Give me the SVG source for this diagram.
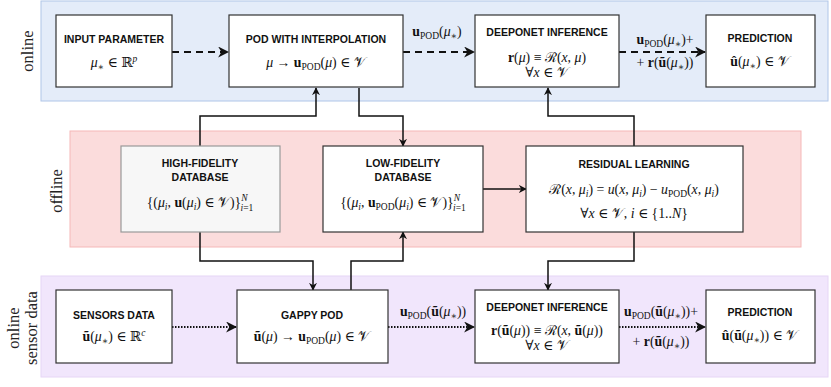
<svg xmlns="http://www.w3.org/2000/svg" width="831" height="387" viewBox="0 0 831 387">
<style>
.box{fill:#fff;stroke:#333;stroke-width:1.2}
.gbox{fill:#f7f7f7;stroke:#999;stroke-width:1.2}
.t{font-family:"Liberation Sans",Arial,sans-serif;font-weight:bold;font-size:10.5px;fill:#111;text-anchor:middle}
.m{font-family:"Liberation Serif","DejaVu Serif",serif;font-size:13.8px;fill:#111;text-anchor:middle}
.lbl{font-family:"Liberation Serif","DejaVu Serif",serif;font-size:16.5px;fill:#222;text-anchor:middle}
.b{font-weight:bold}
.i{font-style:italic}
.s{font-size:9.5px}
.sol{fill:none;stroke:#111;stroke-width:1.5}
.dash{fill:none;stroke:#111;stroke-width:2;stroke-dasharray:7 5}
.dot{fill:none;stroke:#111;stroke-width:2;stroke-dasharray:1.5 1.5}
</style>
<defs>
<marker id="ar" viewBox="0 0 10 10" refX="9" refY="5" markerWidth="8" markerHeight="8" markerUnits="userSpaceOnUse" orient="auto">
<path d="M0,0 L10,5 L0,10 L3,5 z" fill="#111"/>
</marker>
<marker id="arb" viewBox="0 0 10 10" refX="9" refY="5" markerWidth="11" markerHeight="11" markerUnits="userSpaceOnUse" orient="auto">
<path d="M0,0 L10,5 L0,10 L3,5 z" fill="#111"/>
</marker>
</defs>

<g id="bands">
<rect x="41" y="1" width="787" height="100" fill="#e4ecf9" stroke="#b0c6e8" stroke-width="1"/>
<rect x="70" y="131" width="731" height="116" fill="#fbdcdc" stroke="#f5b8b8" stroke-width="1"/>
<rect x="41" y="276" width="787" height="101" fill="#f1e6fc" stroke="#e6d6f6" stroke-width="1"/>
<text class="lbl" transform="translate(33,51) rotate(-90)">online</text>
<text class="lbl" transform="translate(62,191) rotate(-90)">offline</text>
<text class="lbl" transform="translate(19,328) rotate(-90)">online</text>
<text class="lbl" transform="translate(37,328) rotate(-90)">sensor data</text>
</g>

<g id="connectors">
<path class="dash" d="M172,52 H228" marker-end="url(#arb)"/>
<path class="dash" d="M403,52 H474" marker-end="url(#arb)"/>
<path class="dash" d="M619,52 H705" marker-end="url(#arb)"/>
<path class="dot" d="M172,327 H236" marker-end="url(#arb)"/>
<path class="dot" d="M388,327 H474" marker-end="url(#arb)"/>
<path class="dot" d="M619,327 H705" marker-end="url(#arb)"/>
<path class="sol" d="M200,146 V116 H316 V88" marker-end="url(#ar)"/>
<path class="sol" d="M359,88 V116 H403 V146" marker-end="url(#ar)"/>
<path class="sol" d="M200,232 V261 H313 V290" marker-end="url(#ar)"/>
<path class="sol" d="M351,290 V261 H403 V232" marker-end="url(#ar)"/>
<path class="sol" d="M483,189 H526" marker-end="url(#ar)"/>
<path class="sol" d="M634,146 V116 H548 V88" marker-end="url(#ar)"/>
<path class="sol" d="M634,232 V261 H548 V290" marker-end="url(#ar)"/>
<text class="m" x="437" y="36"><tspan class="b">u</tspan><tspan class="s" dy="3">POD</tspan><tspan dy="-3">(</tspan><tspan class="i">μ</tspan><tspan class="s" dy="3">∗</tspan><tspan dy="-3">)</tspan></text>
<text class="m" x="665" y="44"><tspan class="b">u</tspan><tspan class="s" dy="3">POD</tspan><tspan dy="-3">(</tspan><tspan class="i">μ</tspan><tspan class="s" dy="3">∗</tspan><tspan dy="-3">)+</tspan></text>
<text class="m" x="665" y="67">+ <tspan class="b">r</tspan>(<tspan class="b">ũ</tspan>(<tspan class="i">μ</tspan><tspan class="s" dy="3">∗</tspan><tspan dy="-3">))</tspan></text>
<text class="m" x="433" y="316"><tspan class="b">u</tspan><tspan class="s" dy="3">POD</tspan><tspan dy="-3">(</tspan><tspan class="b">ũ</tspan>(<tspan class="i">μ</tspan><tspan class="s" dy="3">∗</tspan><tspan dy="-3">))</tspan></text>
<text class="m" x="661" y="316"><tspan class="b">u</tspan><tspan class="s" dy="3">POD</tspan><tspan dy="-3">(</tspan><tspan class="b">ũ</tspan>(<tspan class="i">μ</tspan><tspan class="s" dy="3">∗</tspan><tspan dy="-3">))+</tspan></text>
<text class="m" x="661" y="346">+ <tspan class="b">r</tspan>(<tspan class="b">ũ</tspan>(<tspan class="i">μ</tspan><tspan class="s" dy="3">∗</tspan><tspan dy="-3">))</tspan></text>
</g>

<g id="input-parameter">
<rect class="box" x="56" y="15" width="116" height="72"/>
<text class="t" x="114" y="43">INPUT PARAMETER</text>
<text class="m" x="114" y="67"><tspan class="i">μ</tspan><tspan class="s" dy="3">∗</tspan><tspan dy="-3"> ∈ ℝ</tspan><tspan class="i s" dy="-5">p</tspan></text>
</g>

<g id="pod-interpolation">
<rect class="box" x="229" y="15" width="174" height="72"/>
<text class="t" x="316" y="43">POD WITH INTERPOLATION</text>
<text class="m" x="316" y="67"><tspan class="i">μ</tspan> → <tspan class="b">u</tspan><tspan class="s" dy="3">POD</tspan><tspan dy="-3">(</tspan><tspan class="i">μ</tspan>) ∈ 𝒱</text>
</g>

<g id="deeponet-online">
<rect class="box" x="475" y="15" width="144" height="72"/>
<text class="t" x="547" y="36">DEEPONET INFERENCE</text>
<text class="m" x="547" y="62"><tspan class="b">r</tspan>(<tspan class="i">μ</tspan>) ≡ ℛ(<tspan class="i">x</tspan>, <tspan class="i">μ</tspan>)</text>
<text class="m" x="547" y="77">∀<tspan class="i">x</tspan> ∈ 𝒱</text>
</g>

<g id="prediction-online">
<rect class="box" x="706" y="15" width="109" height="72"/>
<text class="t" x="760" y="42">PREDICTION</text>
<text class="m" x="760" y="66"><tspan class="b">û</tspan>(<tspan class="i">μ</tspan><tspan class="s" dy="3">∗</tspan><tspan dy="-3">) ∈ 𝒱</tspan></text>
</g>

<g id="high-fidelity">
<rect class="gbox" x="121" y="146" width="159" height="86"/>
<text class="t" x="200" y="167">HIGH-FIDELITY</text>
<text class="t" x="200" y="181">DATABASE</text>
<text class="m" x="200" y="207">{(<tspan class="i">μ</tspan><tspan class="i s" dy="3">i</tspan><tspan dy="-3">, </tspan><tspan class="b">u</tspan>(<tspan class="i">μ</tspan><tspan class="i s" dy="3">i</tspan><tspan dy="-3">) ∈ 𝒱)}</tspan><tspan class="i s" dy="-6">N</tspan><tspan class="i s" dx="-7" dy="10">i</tspan><tspan class="s">=1</tspan></text>
</g>

<g id="low-fidelity">
<rect class="box" x="323" y="146" width="160" height="86"/>
<text class="t" x="403" y="167">LOW-FIDELITY</text>
<text class="t" x="403" y="181">DATABASE</text>
<text class="m" x="403" y="207">{(<tspan class="i">μ</tspan><tspan class="i s" dy="3">i</tspan><tspan dy="-3">, </tspan><tspan class="b">u</tspan><tspan class="s" dy="3">POD</tspan><tspan dy="-3">(</tspan><tspan class="i">μ</tspan><tspan class="i s" dy="3">i</tspan><tspan dy="-3">) ∈ 𝒱)}</tspan><tspan class="i s" dy="-6">N</tspan><tspan class="i s" dx="-7" dy="10">i</tspan><tspan class="s">=1</tspan></text>
</g>

<g id="residual-learning">
<rect class="box" x="526" y="146" width="217" height="86"/>
<text class="t" x="634" y="168">RESIDUAL LEARNING</text>
<text class="m" x="634" y="194">ℛ(<tspan class="i">x</tspan>, <tspan class="i">μ</tspan><tspan class="i s" dy="3">i</tspan><tspan dy="-3">) = </tspan><tspan class="i">u</tspan>(<tspan class="i">x</tspan>, <tspan class="i">μ</tspan><tspan class="i s" dy="3">i</tspan><tspan dy="-3">) − </tspan><tspan class="i">u</tspan><tspan class="s" dy="3">POD</tspan><tspan dy="-3">(</tspan><tspan class="i">x</tspan>, <tspan class="i">μ</tspan><tspan class="i s" dy="3">i</tspan><tspan dy="-3">)</tspan></text>
<text class="m" x="634" y="218">∀<tspan class="i">x</tspan> ∈ 𝒱, <tspan class="i">i</tspan> ∈ {1..<tspan class="i">N</tspan>}</text>
</g>

<g id="sensors-data">
<rect class="box" x="56" y="290" width="116" height="73"/>
<text class="t" x="114" y="319">SENSORS DATA</text>
<text class="m" x="114" y="341"><tspan class="b">ũ</tspan>(<tspan class="i">μ</tspan><tspan class="s" dy="3">∗</tspan><tspan dy="-3">) ∈ ℝ</tspan><tspan class="i s" dy="-5">c</tspan></text>
</g>

<g id="gappy-pod">
<rect class="box" x="237" y="290" width="151" height="73"/>
<text class="t" x="312" y="319">GAPPY POD</text>
<text class="m" x="312" y="341"><tspan class="b">ũ</tspan>(<tspan class="i">μ</tspan>) → <tspan class="b">u</tspan><tspan class="s" dy="3">POD</tspan><tspan dy="-3">(</tspan><tspan class="i">μ</tspan>) ∈ 𝒱</text>
</g>

<g id="deeponet-sensor">
<rect class="box" x="475" y="290" width="144" height="73"/>
<text class="t" x="547" y="311">DEEPONET INFERENCE</text>
<text class="m" x="547" y="335"><tspan class="b">r</tspan>(<tspan class="b">ũ</tspan>(<tspan class="i">μ</tspan>)) ≡ ℛ(<tspan class="i">x</tspan>, <tspan class="b">ũ</tspan>(<tspan class="i">μ</tspan>))</text>
<text class="m" x="547" y="350">∀<tspan class="i">x</tspan> ∈ 𝒱</text>
</g>

<g id="prediction-sensor">
<rect class="box" x="706" y="290" width="109" height="73"/>
<text class="t" x="760" y="316">PREDICTION</text>
<text class="m" x="760" y="340"><tspan class="b">û</tspan>(<tspan class="b">ũ</tspan>(<tspan class="i">μ</tspan><tspan class="s" dy="3">∗</tspan><tspan dy="-3">)) ∈ 𝒱</tspan></text>
</g>
</svg>
